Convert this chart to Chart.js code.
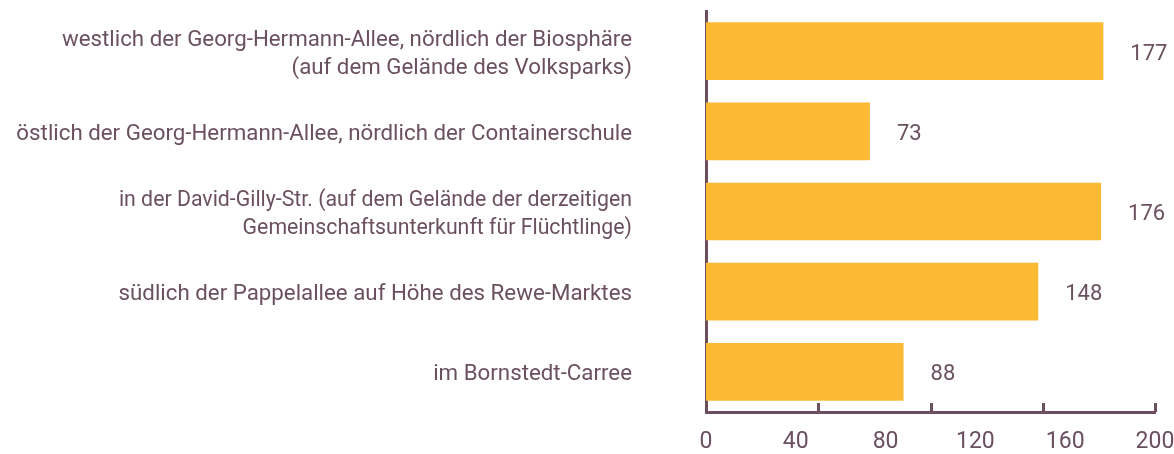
<!DOCTYPE html>
<html lang="de">
<head>
<meta charset="utf-8">
<script src="https://cdn.jsdelivr.net/npm/chart.js@4/dist/chart.umd.min.js"></script>
<style>
  html, body { margin: 0; padding: 0; background: #ffffff; }
  #wrap { width: 1174px; height: 454px; position: relative; }
</style>
</head>
<body>
<div id="wrap"><canvas id="chart"></canvas></div>
<script>
// Standorte (mehrzeilige Beschriftungen) und Anzahl je Standort
const locations = [
  ["westlich der Georg-Hermann-Allee, nördlich der Biosphäre", "(auf dem Gelände des Volksparks)"],
  "östlich der Georg-Hermann-Allee, nördlich der Containerschule",
  ["in der David-Gilly-Str. (auf dem Gelände der derzeitigen", "Gemeinschaftsunterkunft für Flüchtlinge)"],
  "südlich der Pappelallee auf Höhe des Rewe-Marktes",
  "im Bornstedt-Carree"
];
const counts = [177, 73, 176, 148, 88];

// Achsenbereich, beschriftete Schritte und Teilstriche
const axisMin = 0;
const axisMax = 200;
const labelStep = 40;
const tickMarkValues = [0, 50, 100, 150, 200];

const TEXT = '#6b5060';
const AXIS = '#6b4f5f';
const BAR = '#fbb934';

// Teilstriche nach innen an der x-Achse
const innerTicks = {
  id: 'innerTicks',
  afterDraw(chart) {
    const x = chart.scales.x;
    const ctx = chart.ctx;
    const bottom = chart.chartArea.bottom;
    ctx.save();
    ctx.strokeStyle = AXIS;
    ctx.lineWidth = 3;
    tickMarkValues.forEach(v => {
      const px = Math.round(x.getPixelForValue(v)) + 0.5;
      ctx.beginPath();
      ctx.moveTo(px, bottom - 9);
      ctx.lineTo(px, bottom);
      ctx.stroke();
    });
    ctx.restore();
  }
};

// Zahlenwerte rechts neben den Balken
const valueLabels = {
  id: 'valueLabels',
  afterDatasetsDraw(chart) {
    const ctx = chart.ctx;
    const meta = chart.getDatasetMeta(0);
    ctx.save();
    ctx.fillStyle = TEXT;
    ctx.font = '22px Roboto';
    ctx.textAlign = 'left';
    ctx.textBaseline = 'middle';
    meta.data.forEach((bar, i) => {
      ctx.fillText(String(counts[i]), bar.x + 27, bar.y + 3);
    });
    ctx.restore();
  }
};

new Chart(document.getElementById('chart'), {
  type: 'bar',
  data: {
    labels: locations,
    datasets: [{
      data: counts,
      backgroundColor: BAR,
      borderWidth: 0,
      categoryPercentage: 1,
      barPercentage: 0.72
    }]
  },
  options: {
    indexAxis: 'y',
    responsive: true,
    maintainAspectRatio: false,
    animation: false,
    layout: { padding: { top: 11, right: 19, bottom: 0, left: 0 } },
    plugins: {
      legend: { display: false },
      tooltip: { enabled: false }
    },
    scales: {
      x: {
        min: axisMin,
        max: axisMax,
        grid: { display: false, drawTicks: false },
        border: { display: true, color: AXIS, width: 3 },
        ticks: {
          stepSize: labelStep,
          color: TEXT,
          font: { family: 'Roboto', size: 23 },
          padding: 16
        },
        afterFit(scale) {
          scale.height = 42;
          scale.paddingLeft = 0;
          scale.paddingRight = 0;
        }
      },
      y: {
        grid: { display: false, drawTicks: false },
        border: { display: true, color: AXIS, width: 3 },
        ticks: {
          color: TEXT,
          // die lange Adresszeile etwas kleiner gesetzt
          font: (c) => ({
            family: 'Roboto',
            size: c.index === 2 ? 21.3 : 22.3,
            lineHeight: c.index === 2 ? 1.33 : 1.27
          }),
          padding: 74,
          labelOffset: 3
        },
        afterFit(scale) {
          scale.width = 706;
          scale.paddingTop = 0;
          scale.paddingBottom = 0;
        }
      }
    }
  },
  plugins: [innerTicks, valueLabels]
});
</script>
</body>
</html>
